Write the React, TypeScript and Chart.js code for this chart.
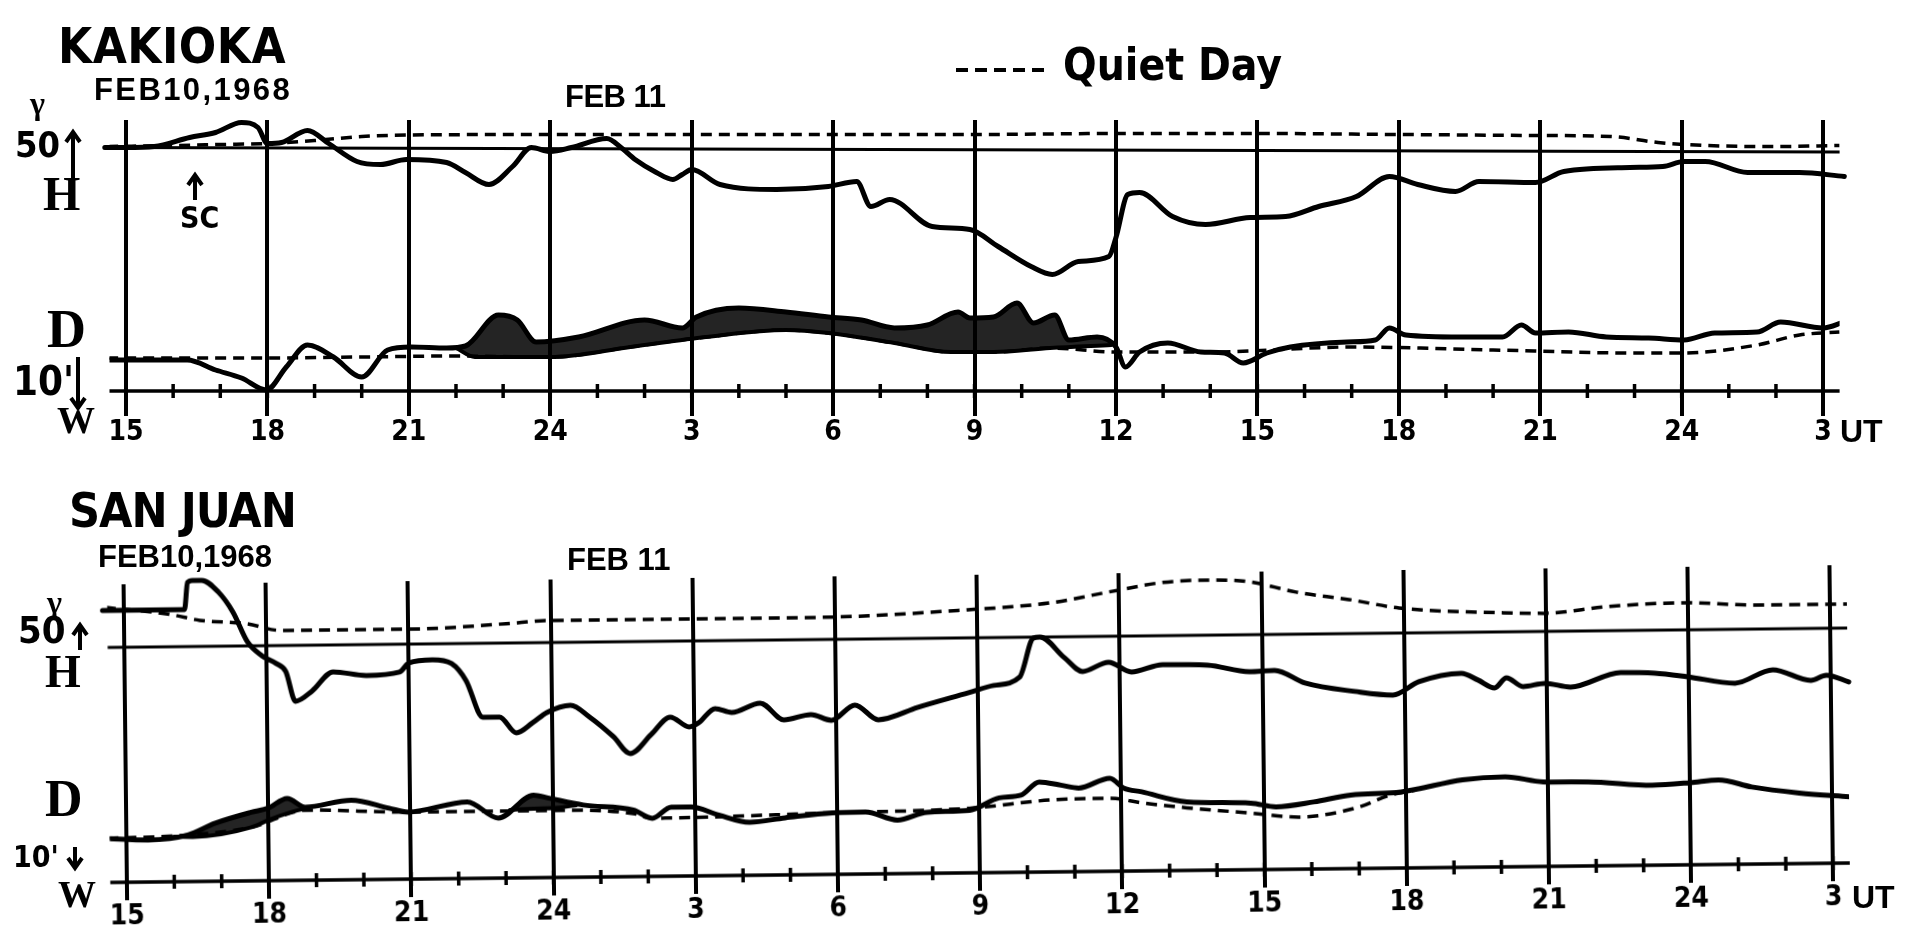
import React, { useEffect, useRef } from "react";
import { Chart, registerables } from "chart.js";
Chart.register(...registerables);

type Pt = [number, number];

// ---- axis categories (hours after 15 UT, Feb 10 1968) ----
const gridHours = [0, 3, 6, 9, 12, 15, 18, 21, 24, 27, 30, 33, 36];
const gridLabels = ["15", "18", "21", "24", "3", "6", "9", "12", "15", "18", "21", "24", "3"];
const hourMarks = [0, 1, 2, 3, 4, 5, 6, 7, 8, 9, 10, 11, 12, 13, 14, 15, 16, 17, 18, 19, 20, 21, 22, 23, 24, 25, 26, 27, 28, 29, 30, 31, 32, 33, 34, 35, 36];

// ---- KAKIOKA ----  H in gamma (up = +), D in minutes (up = east)
const kakiokaH: Pt[] = [
  [-0.45, 0], [0, 0], [0.6, 1], [1.35, 10], [1.9, 15], [2.45, 25], [2.8, 20], [3.0, 4], [3.3, 5], [3.85, 17],
  [4.3, 4], [4.9, -14], [5.4, -17], [5.95, -12], [6.8, -15], [7.2, -25], [7.7, -37], [8.2, -19], [8.6, 0],
  [9.0, -4], [9.45, 0], [10.2, 9], [10.5, 0], [10.8, -12], [11.25, -25], [11.6, -32], [11.8, -27], [12.0, -22],
  [12.6, -37], [13.8, -42], [14.9, -39], [15.5, -34], [15.8, -59], [16.2, -52], [17.1, -79], [17.9, -82],
  [18.5, -99], [19.2, -119], [19.65, -127], [20.2, -114], [20.85, -109], [21.0, -90], [21.25, -47], [21.5, -45],
  [22.2, -69], [22.9, -77], [23.85, -70], [24.6, -69], [25.3, -59], [26.1, -49], [26.8, -29], [27.4, -37],
  [28.2, -44], [28.7, -34], [29.9, -35], [30.5, -24], [31.9, -20], [32.6, -19], [33.05, -14], [33.5, -14],
  [34.4, -25], [35.5, -25], [36.45, -29],
];
const kakiokaHQuiet: Pt[] = [
  [-0.4, 1], [1, 2], [2, 3], [3, 4], [4, 7], [5, 11], [6, 12.5], [9, 13], [12, 13], [15, 13], [18, 13], [21, 14],
  [24, 14], [27, 13], [30, 12], [31.5, 11], [32.5, 5], [33.5, 2], [35, 1], [36.35, 2],
];
const kakiokaHBase: Pt[] = [[-0.35, 0], [36.35, -4.5]];
const kakiokaD: Pt[] = [
  [-0.4, 7], [1.3, 7], [1.9, 5], [2.45, 3.4], [2.98, 1], [3.4, 5.6], [3.85, 10], [4.4, 7.6], [5.0, 3.6], [5.55, 9],
  [6.05, 9.6], [6.8, 9.4], [7.2, 9.8], [7.9, 16], [8.3, 15], [8.7, 10.6], [9.6, 11.6], [11, 15], [11.8, 13.4],
  [12.1, 15.6], [13, 17.4], [14, 16.6], [14.9, 15.6], [15.6, 15], [16.3, 13.4], [17, 14], [17.65, 16.6],
  [17.9, 15.4], [18.4, 15.6], [18.9, 18.4], [19.25, 14.4], [19.7, 16], [20, 11], [20.6, 11.6], [21, 9.6],
  [21.2, 5.6], [21.5, 8.6], [22.1, 10.4], [22.8, 8.6], [23.3, 8.4], [23.7, 6.4], [24.2, 8.4], [24.7, 9.6],
  [25.9, 10.6], [26.5, 11], [26.8, 13.4], [27.15, 12], [28.3, 11.6], [29.2, 11.6], [29.6, 14], [29.9, 12.4],
  [30.6, 12.6], [31.4, 11.6], [32.3, 11.4], [33.05, 11], [33.7, 12.4], [34.6, 12.6], [35.1, 14.6], [36, 13.4],
  [36.45, 14.6],
];
const kakiokaDLower: Pt[] = [
  [7.0, 9.4], [7.4, 7.6], [9, 7.6], [10.7, 9.6], [12.3, 11.6], [14, 13], [14.9, 12.4], [16.3, 10.4], [17.5, 8.6],
  [18.4, 8.6], [19.6, 9.4], [20.9, 10],
];
const kakiokaDQuiet: Pt[] = [
  [-0.4, 7.4], [3, 7.4], [5, 7.6], [7, 7.8], [9, 7.6], [10.7, 9.6], [12.3, 11.6], [14, 13], [14.9, 12.4],
  [16.3, 10.4], [17.5, 8.6], [18.4, 8.6], [19.6, 9.4], [21, 8.6], [23, 8.6], [26, 9.6], [29, 9], [32, 8.4],
  [33, 8.4], [34.6, 10], [35.5, 12], [36.35, 12.6],
];
const kakiokaAxisLevel = 0.8;

// ---- SAN JUAN ----
const sanJuanH: Pt[] = [
  [-0.45, 37], [1.28, 37], [1.35, 64], [1.45, 66], [1.65, 66], [2.0, 54], [2.3, 34], [2.6, 4], [2.9, -10],
  [3.2, -18], [3.4, -26], [3.6, -56], [3.95, -46], [4.4, -27], [5.1, -31], [5.8, -28], [6.0, -19], [6.5, -16],
  [6.9, -20], [7.2, -37], [7.55, -74], [7.9, -74], [8.25, -90], [8.6, -80], [8.9, -70], [9.4, -63], [9.8, -75],
  [10.3, -95], [10.65, -112], [11.1, -93], [11.5, -76], [11.9, -86], [12.1, -82], [12.45, -68], [12.8, -72],
  [13.4, -63], [13.9, -80], [14.47, -75], [14.9, -81], [15.4, -66], [15.89, -81], [16.73, -69], [17.8, -55],
  [18.33, -48], [18.88, -40], [19.18, -1], [19.32, 0], [19.83, -21], [20.21, -35], [20.76, -26], [21.24, -36],
  [21.9, -29], [22.85, -30], [23.73, -37], [24.26, -36], [24.9, -49], [25.95, -58], [26.75, -62], [27.3, -49],
  [28.2, -41], [28.55, -48], [28.9, -56], [29.15, -46], [29.5, -55], [29.96, -52], [30.5, -56], [31.56, -42],
  [32.28, -43], [32.97, -47], [33.97, -54], [34.77, -41], [35.57, -52], [35.9, -47], [36.37, -54],
];
const sanJuanHQuiet: Pt[] = [
  [-0.4, 40], [1.0, 32], [1.6, 26], [2.6, 22], [3.3, 15], [5.3, 15], [6.2, 15], [6.9, 16], [8.3, 20], [8.9, 22],
  [11.9, 22], [14.5, 22], [17.8, 28], [19.55, 34], [20.76, 44], [21.9, 53], [22.85, 55], [23.73, 53],
  [24.73, 42], [25.84, 34], [26.9, 25], [29.1, 19], [29.96, 18], [31.3, 24], [32.9, 27], [34.4, 24], [36.35, 24],
];
const sanJuanHBase: Pt[] = [[-0.35, 0], [36.35, 0]];
const sanJuanD: Pt[] = [
  [-0.46, 8.8], [0.46, 8.4], [1.3, 9.3], [1.88, 11.6], [2.64, 13.7], [3.0, 14.5], [3.4, 16.4], [3.78, 14.6],
  [4.75, 15.9], [5.55, 14.2], [5.95, 13.4], [7.2, 15.3], [7.85, 12], [8.6, 16.5], [8.9, 15.9], [9.65, 14.4],
  [10.7, 13.3], [11.1, 11.6], [11.5, 13.8], [11.92, 13.8], [12.5, 12.1], [13.15, 10.6], [13.9, 11.4],
  [14.9, 12.3], [15.6, 12.4], [16.27, 10.7], [16.9, 12.2], [17.8, 12.5], [18.42, 14.9], [18.88, 15.4],
  [19.27, 18], [19.73, 17.3], [20.1, 16.7], [20.76, 18.6], [21.05, 16.6], [21.43, 15.8], [22.38, 13.7],
  [23.73, 13.3], [24.26, 12.5], [25.06, 13.4], [25.84, 14.7], [26.9, 15.2], [28.2, 17.5], [29.1, 18],
  [29.9, 16.9], [30.85, 16.8], [32.2, 16], [33.0, 16.4], [33.6, 16.9], [34.3, 15.4], [35.3, 14.1], [36.4, 13.2],
];
const sanJuanDLower1: Pt[] = [[1.0, 9.0], [1.4, 8.9], [2.64, 10.7], [3.0, 12.1], [3.4, 13.4], [3.85, 14.5]];
const sanJuanDLower2: Pt[] = [[8.1, 13.6], [8.6, 13.8], [9.2, 14.0], [9.5, 14.4]];
const sanJuanDQuiet: Pt[] = [
  [-0.4, 8.8], [1.3, 9.3], [2.64, 10.7], [3.8, 14], [6, 13.4], [9, 13.4], [10.7, 12.6], [11.08, 11.6],
  [14.9, 12.3], [17.8, 12.9], [19.55, 14.4], [20.76, 14.6], [21.43, 13.6], [22.38, 12.5], [23.73, 11.3],
  [24.73, 10.4], [25.95, 12.1], [26.67, 14.6], [27.2, 15.5],
];
const sanJuanAxisLevel = 0;

// ---- fonts ----
const SANS_N = "'Liberation Sans Narrow', 'DejaVu Sans Condensed', 'Liberation Sans', sans-serif";
const SANS = "'Liberation Sans', 'DejaVu Sans', sans-serif";
const SERIF = "'Liberation Serif', 'DejaVu Serif', serif";

type PanelCfg = {
  h: Pt[]; hQuiet: Pt[]; hBase: Pt[]; d: Pt[]; dQuiet: Pt[]; dLower: Pt[][]; axisLevel: number;
  padLeft: number; padRight: number; padTop: number;
  hMin: number; hMax: number; dMin: number; dMax: number;
};

const toXY = (a: Pt[]) => a.map(([x, y]) => ({ x, y }));

function line(data: Pt[], axis: string, width: number, dash?: number[]) {
  return {
    data: toXY(data),
    yAxisID: axis,
    borderColor: "#000",
    borderWidth: width,
    borderDash: dash || [],
    borderCapStyle: dash ? "butt" : "round",
    borderJoinStyle: "round",
    pointRadius: 0,
    tension: 0.25,
    cubicInterpolationMode: "monotone",
    fill: false,
  } as any;
}

function Panel({ cfg }: { cfg: PanelCfg }) {
  const ref = useRef<HTMLCanvasElement>(null);
  useEffect(() => {
    const datasets: any[] = [
      line(cfg.hBase, "yH", 3),
      line(cfg.hQuiet, "yH", 3.5, [11, 7]),
      { ...line(cfg.h, "yH", 5), clip: false },
      line(cfg.dQuiet, "yD", 3.5, [11, 7]),
      line(cfg.d, "yD", 5),
      line([[-0.35, cfg.axisLevel], [36.35, cfg.axisLevel]], "yD", 3.5),
      {
        data: hourMarks.map((h) => ({ x: h, y: cfg.axisLevel })),
        yAxisID: "yD",
        showLine: false,
        pointStyle: "line",
        pointRotation: 90,
        pointRadius: 7,
        pointBorderWidth: 3.5,
        pointBorderColor: "#000",
        pointBackgroundColor: "#000",
      },
      ...cfg.dLower.map((env) => ({
        ...line(env, "yD", 4),
        fill: 4,
        backgroundColor: "rgba(0,0,0,0.86)",
      })),
    ];
    const chart = new Chart(ref.current!, {
      type: "line",
      data: { datasets },
      options: {
        animation: false,
        responsive: false,
        devicePixelRatio: 1,
        events: [],
        layout: { padding: { left: cfg.padLeft, right: cfg.padRight, top: cfg.padTop, bottom: 0 } },
        plugins: { legend: { display: false }, tooltip: { enabled: false } },
        scales: {
          x: {
            type: "linear",
            min: -0.35,
            max: 36.35,
            position: "bottom",
            afterBuildTicks: (s: any) => {
              s.ticks = gridHours.map((v) => ({ value: v }));
            },
            afterFit: (s: any) => {
              s.height = 50;
            },
            grid: { color: "#000", lineWidth: 4, drawTicks: false },
            border: { display: false },
            ticks: {
              autoSkip: false,
              maxRotation: 0,
              padding: 0,
              color: "#000",
              font: { family: SANS_N, size: 28, weight: "bold" },
              callback: (v: any) => gridLabels[gridHours.indexOf(Number(v))] ?? "",
            },
          },
          yH: { type: "linear", display: false, min: cfg.hMin, max: cfg.hMax },
          yD: { type: "linear", display: false, min: cfg.dMin, max: cfg.dMax },
        },
      } as any,
    });
    return () => chart.destroy();
  }, []);
  return <canvas ref={ref} width={1911} height={466} style={{ display: "block", width: 1911, height: 466 }} />;
}

function Txt(p: { x: number; base: number; size: number; text: string; font?: string; weight?: number; ls?: number; k?: number }) {
  const k = p.k ?? (p.font === SERIF ? 0.8375 : 0.8465);
  return (
    <div
      style={{
        position: "absolute",
        left: p.x,
        top: p.base - k * p.size,
        fontSize: p.size,
        lineHeight: `${p.size}px`,
        fontFamily: p.font ?? SANS_N,
        fontWeight: p.weight ?? 700,
        letterSpacing: p.ls ?? 0,
        whiteSpace: "nowrap",
        color: "#000",
      }}
    >
      {p.text}
    </div>
  );
}

function Arrow({ cx, top, bottom, dir }: { cx: number; top: number; bottom: number; dir: "up" | "down" }) {
  const w = 20;
  const h = bottom - top;
  const m = w / 2;
  return (
    <svg style={{ position: "absolute", left: cx - m, top, overflow: "visible" }} width={w} height={h}>
      {dir === "up" ? (
        <>
          <line x1={m} y1={3} x2={m} y2={h} stroke="#000" strokeWidth={4} />
          <polyline points={`${m - 7},${12} ${m},${2} ${m + 7},${12}`} fill="none" stroke="#000" strokeWidth={4} />
        </>
      ) : (
        <>
          <line x1={m} y1={0} x2={m} y2={h - 3} stroke="#000" strokeWidth={4} />
          <polyline points={`${m - 7},${h - 12} ${m},${h - 2} ${m + 7},${h - 12}`} fill="none" stroke="#000" strokeWidth={4} />
        </>
      )}
    </svg>
  );
}

const topCfg: PanelCfg = {
  h: kakiokaH, hQuiet: kakiokaHQuiet, hBase: kakiokaHBase, d: kakiokaD, dQuiet: kakiokaDQuiet,
  dLower: [kakiokaDLower], axisLevel: kakiokaAxisLevel,
  padLeft: 109.5, padRight: 71.4, padTop: 120,
  hMin: -268.5, hMax: 27.5, dMin: -4.2, dMax: 55,
};
const bottomCfg: PanelCfg = {
  h: sanJuanH, hQuiet: sanJuanHQuiet, hBase: sanJuanHBase, d: sanJuanD, dQuiet: sanJuanDQuiet,
  dLower: [sanJuanDLower1, sanJuanDLower2], axisLevel: sanJuanAxisLevel,
  padLeft: 108.4, padRight: 63, padTop: 100,
  hMin: -253.1, hMax: 62.9, dMin: -3.62, dMax: 59.58,
};

export default function App() {
  return (
    <div style={{ position: "fixed", left: 0, top: 0, width: 1911, height: 945, background: "#fff", overflow: "hidden" }}>
      <div style={{ position: "absolute", left: 0, top: 0 }}>
        <Panel cfg={topCfg} />
      </div>
      <div style={{ position: "absolute", left: 0, top: 475, transform: "rotate(-0.64deg)", transformOrigin: "50% 50%" }}>
        <Panel cfg={bottomCfg} />
      </div>

      {/* KAKIOKA labels */}
      <Txt x={58} base={63} size={49} text="KAKIOKA" ls={0.5} />
      <Txt x={94} base={100} size={31} font={SANS} text="FEB10,1968" ls={2.4} />
      <Txt x={565} base={107} size={31} font={SANS} text="FEB 11" ls={-0.5} />
      <svg style={{ position: "absolute", left: 956, top: 66 }} width={90} height={8}>
        <line x1={0} y1={4} x2={90} y2={4} stroke="#000" strokeWidth={4} strokeDasharray="12 7" />
      </svg>
      <Txt x={1063} base={80} size={44} text="Quiet Day" />
      <Txt x={30} base={114} size={32} font={SERIF} text="γ" />
      <Txt x={15} base={157} size={36} text="50" />
      <Arrow cx={73} top={130} bottom={178} dir="up" />
      <Txt x={43} base={210} size={48} font={SERIF} text="H" />
      <Txt x={47} base={347} size={54} font={SERIF} text="D" />
      <Txt x={13} base={395} size={40} text="10'" />
      <Arrow cx={78} top={357} bottom={410} dir="down" />
      <Txt x={57} base={433} size={38} font={SERIF} text="W" />
      <Arrow cx={195} top={173} bottom={200} dir="up" />
      <Txt x={180} base={228} size={30} text="SC" />
      <Txt x={1840} base={442} size={32} font={SANS} text="UT" />

      {/* SAN JUAN labels */}
      <Txt x={69} base={527} size={48} text="SAN JUAN" ls={-1} />
      <Txt x={98} base={567} size={31} font={SANS} text="FEB10,1968" />
      <Txt x={567} base={570} size={31} font={SANS} text="FEB 11" />
      <Txt x={47} base={613} size={32} font={SERIF} text="γ" />
      <Txt x={18} base={643} size={38} text="50" />
      <Arrow cx={80} top={623} bottom={650} dir="up" />
      <Txt x={45} base={688} size={46} font={SERIF} text="H" />
      <Txt x={45} base={817} size={52} font={SERIF} text="D" />
      <Txt x={13} base={867} size={30} text="10'" />
      <Arrow cx={75} top={847} bottom={870} dir="down" />
      <Txt x={58} base={907} size={38} font={SERIF} text="W" />
      <Txt x={1852} base={908} size={32} font={SANS} text="UT" />
    </div>
  );
}
